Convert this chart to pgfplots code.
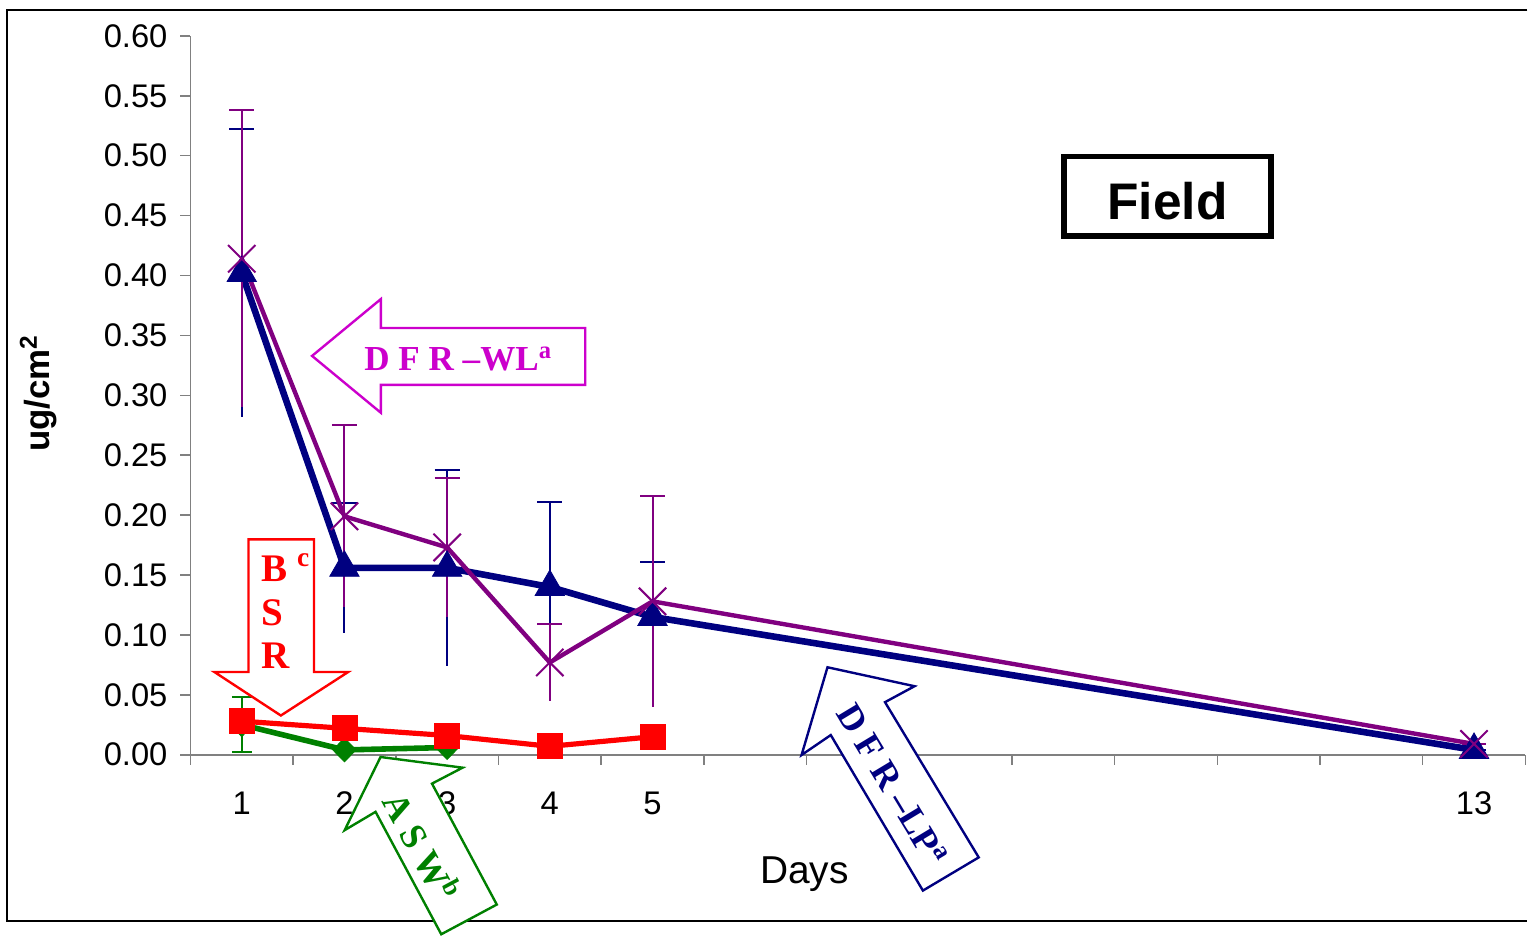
\documentclass[border=0pt]{standalone}
\usepackage{fontspec}
\setmainfont{Liberation Sans}
\newfontfamily\tnr{Liberation Serif}
\usepackage{pgfplots}
\usepackage{pgfplotstable}
\pgfplotsset{compat=1.18}
\definecolor{navyc}{HTML}{000080}
\definecolor{purc}{HTML}{800080}
\definecolor{redc}{HTML}{FF0000}
\definecolor{grnc}{HTML}{008000}
\definecolor{magc}{HTML}{CC00CC}
\definecolor{axgray}{HTML}{808080}
\pgfplotstableread{
x y e
1 0.402 0.120
2 0.156 0.054
3 0.156 0.082
4 0.140 0.071
5 0.115 0.046
13 0.004 0
}\lp
\pgfplotstableread{
x y e
1 0.414 0.124
2 0.199 0.076
3 0.173 0.058
4 0.077 0.032
5 0.128 0.088
13 0.009 0
}\wl
\pgfplotstableread{
x y e
1 0.025 0.023
2 0.004 0
3 0.006 0
}\asw
\pgfplotstableread{
x y
1 0.028
2 0.022
3 0.016
4 0.007
5 0.015
}\bsr
\begin{document}
\begin{tikzpicture}
\begin{scope}[x=0.5pt,y=-0.5pt,yshift=467pt]
\useasboundingbox (0,0) rectangle (1532,934);
\end{scope}
\begin{axis}[
  at={(95.5pt,88.5pt)}, anchor=south west,
  scale only axis, width=669.5pt, height=360.5pt,
  xmin=0.5, xmax=13.5, ymin=0, ymax=0.6,
  axis lines=left,
  axis line style={-, draw=axgray, line width=0.8pt},
  xtick={0.5,1.5,...,13.5},
  xticklabels={},
  extra x ticks={1,2,3,4,5,13},
  extra x tick labels={1,2,3,4,5,13},
  extra x tick style={major tick length=0pt},
  ytick={0,0.05,0.10,0.15,0.20,0.25,0.30,0.35,0.40,0.45,0.50,0.55,0.60},
  tick align=outside,
  major tick length=5pt,
  tick style={draw=axgray, line width=0.8pt},
  ticklabel style={font=\fontsize{16.4}{18}\selectfont},
  xticklabel style={anchor=north, yshift=-15pt},
  yticklabel style={anchor=east, xshift=-3pt},
  /pgf/number format/assume math mode=true,
  yticklabel={\pgfmathprintnumber[fixed,fixed zerofill,precision=2]{\tick}},
  xlabel={Days},
  xlabel style={at={(axis description cs:0.46,-0.179)}, anchor=base, font=\fontsize{19.5}{22}\selectfont},
  ylabel={ug/cm\textsuperscript{2}},
  ylabel style={at={(axis description cs:-0.114,0.503)}, anchor=center, font=\bfseries\fontsize{17.5}{20}\selectfont},
  clip=false,
]
% DFR-LP (navy): lower bars without caps
\addplot[draw=none, mark=none, forget plot,
  error bars/.cd, y dir=minus, y explicit,
  error bar style={draw=navyc, line width=1pt}, error mark=none]
  table[x=x, y=y, y error=e] {\lp};
\addplot[navyc, line width=3.3pt, mark=triangle*, mark size=8.5pt,
  mark options={solid, line width=0.4pt, fill=navyc},
  error bars/.cd, y dir=plus, y explicit,
  error bar style={line width=1pt, navyc},
  error mark options={rotate=90, navyc, mark size=6.25pt, line width=1pt}]
  table[x=x, y=y, y error=e] {\lp};
% DFR-WL (purple)
\addplot[draw=none, mark=none, forget plot,
  error bars/.cd, y dir=minus, y explicit,
  error bar style={draw=purc, line width=1pt}, error mark=none]
  table[x=x, y=y, y error=e] {\wl};
\addplot[purc, line width=2.2pt, mark=x, mark size=9.7pt,
  mark options={solid, line width=1pt},
  error bars/.cd, y dir=plus, y explicit,
  error bar style={line width=1pt, purc},
  error mark options={rotate=90, purc, mark size=6.25pt, line width=1pt}]
  table[x=x, y=y, y error=e] {\wl};
% ASW (green)
\addplot[grnc, line width=2.8pt, mark=diamond*, mark size=6pt,
  mark options={solid, line width=0.4pt, fill=grnc, xscale=1.3},
  error bars/.cd, y dir=both, y explicit,
  error bar style={line width=1pt, grnc},
  error mark options={rotate=90, grnc, mark size=5pt, line width=1pt}]
  table[x=x, y=y, y error=e] {\asw};
% BSR (red)
\addplot[redc, line width=2.6pt, mark=square*, mark size=6.25pt,
  mark options={solid, line width=0.4pt, fill=redc}]
  table[x=x, y=y] {\bsr};
\end{axis}
\begin{scope}[x=0.5pt,y=-0.5pt,yshift=467pt]
% outer frame
\draw[black, line width=0.8pt] (1532,10) -- (7,10) -- (7,924) -- (1532,924);
% Field box
\draw[black, line width=2.75pt, fill=white] (1067,157) rectangle (1275,236.5);
\node[font=\bfseries\fontsize{25.8}{28}\selectfont, anchor=center] at (1171,201.5) {Field};
% DFR-WL arrow
\draw[magc, line width=1.2pt, fill=white] (313,357) -- (382,300) -- (382,329) -- (587,329) -- (587,386) -- (382,386) -- (382,414) -- cycle;
\node[magc, font=\tnr\bfseries\fontsize{17.6}{20}\selectfont, anchor=base west, inner sep=0pt] at (365,371.7) {D F R –WL\textsuperscript{a}};
% BSR arrow
\draw[redc, line width=1.2pt, fill=white] (249.3,541) -- (315,541) -- (315,674) -- (349.3,674) -- (281.7,717.7) -- (215,674) -- (249.3,674) -- cycle;
\node[redc, font=\tnr\bfseries\fontsize{19.6}{22}\selectfont, anchor=base west, inner sep=0pt] at (261.7,583) {B \textsuperscript{c}};
\node[redc, font=\tnr\bfseries\fontsize{19.6}{22}\selectfont, anchor=base west, inner sep=0pt] at (261.7,627) {S};
\node[redc, font=\tnr\bfseries\fontsize{19.6}{22}\selectfont, anchor=base west, inner sep=0pt] at (262,671) {R};
% ASW arrow
\draw[grnc, line width=1.2pt, fill=white] (381.7,759.3) -- (464,770) -- (433.3,786) -- (498.3,907.3) -- (442.6,937.1) -- (376.7,814.3) -- (345.7,832.7) -- cycle;
\node[grnc, font=\tnr\bfseries\fontsize{18.4}{20}\selectfont, anchor=center, rotate=-61.8, inner sep=0pt] at (424,849) {A S W\textsuperscript{b}};
% DFR-LP arrow
\draw[navyc, line width=1.2pt, fill=white] (830,669.3) -- (917.3,688.3) -- (887.7,704.3) -- (981.7,860) -- (925.7,893.3) -- (833.3,737.3) -- (804,757.3) -- cycle;
\node[navyc, font=\tnr\bfseries\fontsize{18.3}{20}\selectfont, anchor=center, rotate=-58.9, inner sep=0pt] at (895,787) {D F R –LP\textsuperscript{a}};
\end{scope}
\end{tikzpicture}
\end{document}
